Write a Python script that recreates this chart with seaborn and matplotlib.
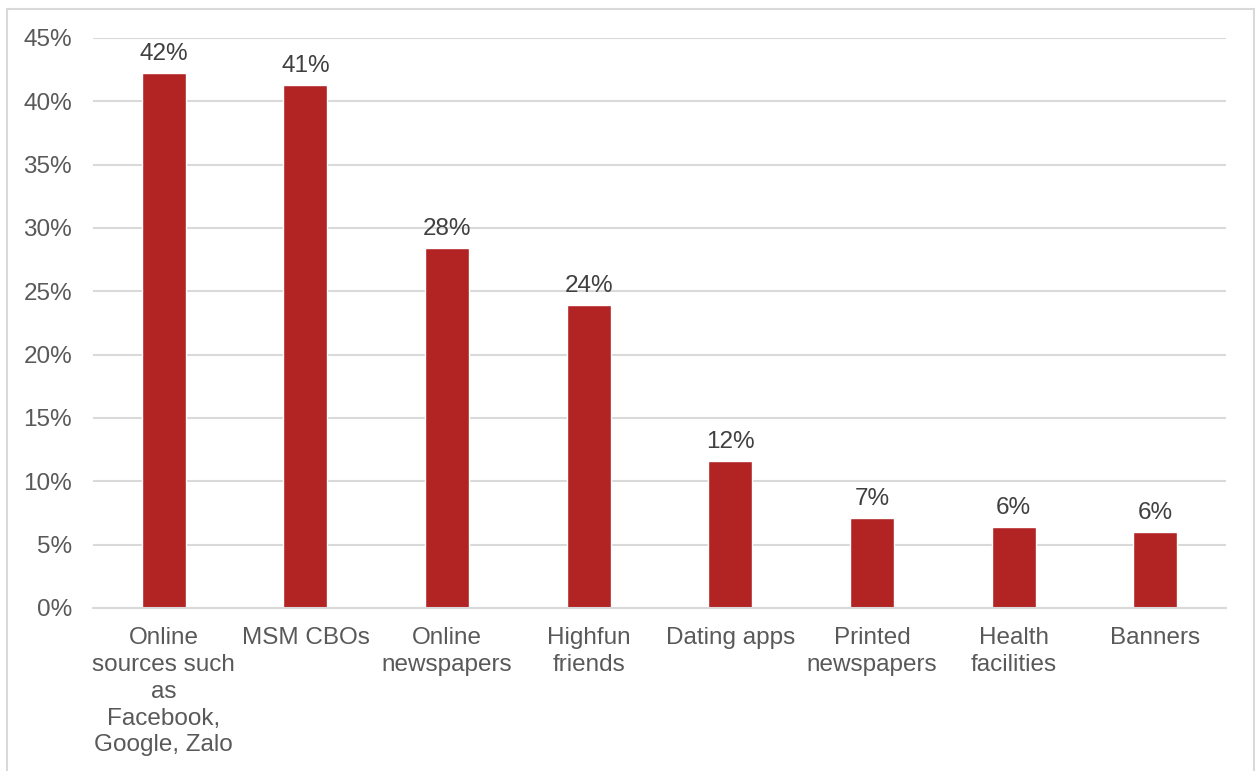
import matplotlib
matplotlib.use("Agg")
import matplotlib.pyplot as plt
from matplotlib.patches import Rectangle
import seaborn as sns
import pandas as pd

categories = [
    "Online\nsources such\nas\nFacebook,\nGoogle, Zalo",
    "MSM CBOs",
    "Online\nnewspapers",
    "Highfun\nfriends",
    "Dating apps",
    "Printed\nnewspapers",
    "Health\nfacilities",
    "Banners",
]
shares = [42.2, 41.3, 28.4, 23.9, 11.6, 7.1, 6.4, 6.0]
y_ticks = [0, 5, 10, 15, 20, 25, 30, 35, 40, 45]

sns.set_theme(style="white")
plt.rcParams["font.family"] = ["Liberation Sans", "DejaVu Sans"]

df = pd.DataFrame({"source": categories, "share": shares})

fig = plt.figure(figsize=(12.55, 7.71), dpi=100)
ax = fig.add_axes([93 / 1255, 1 - 608 / 771, (1226 - 93) / 1255, (608 - 38) / 771])

sns.barplot(data=df, x="source", y="share", color="#B22323", saturation=1,
            width=0.31, ax=ax)

ax.set_xlim(-0.5, len(categories) - 0.5)
ax.set_ylim(0, 45)
ax.set_yticks(y_ticks)
ax.set_yticklabels([f"{t}%" for t in y_ticks])
ax.yaxis.grid(True, color="#D9D9D9", linewidth=1.5)
ax.set_axisbelow(True)
for side in ["top", "right", "left"]:
    ax.spines[side].set_visible(False)
ax.spines["bottom"].set_color("#D9D9D9")
ax.spines["bottom"].set_linewidth(1.5)
ax.set_xlabel("")
ax.set_ylabel("")
ax.tick_params(axis="both", length=0, labelsize=17.5, colors="#595959")
ax.tick_params(axis="y", pad=15)
ax.tick_params(axis="x", pad=14)
for lab in ax.get_xticklabels():
    lab.set_linespacing(1.28)

for patch, val in zip(ax.patches, shares):
    ax.annotate(f"{val:.0f}%",
                (patch.get_x() + patch.get_width() / 2, patch.get_height()),
                xytext=(0, 6), textcoords="offset points",
                ha="center", va="bottom", fontsize=17.5, color="#404040")

fig.patches.append(Rectangle((7 / 1255, -0.05), (1254 - 7) / 1255, 1.05 - 9 / 771,
                             transform=fig.transFigure, fill=False,
                             edgecolor="#D9D9D9", linewidth=1.5))

fig.savefig("out.png", dpi=100)
